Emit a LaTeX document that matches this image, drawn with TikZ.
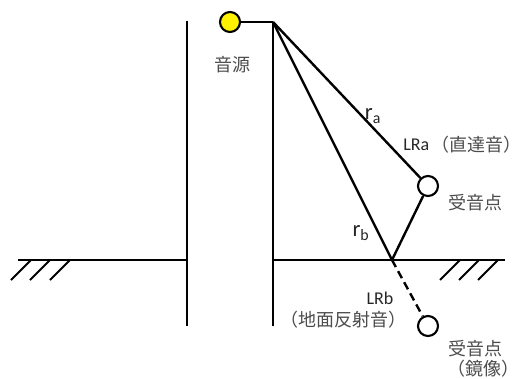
\documentclass[tikz,border=0pt]{standalone}
\usepackage{fontspec}
\setmainfont{Carlito}
\newfontfamily\cjk[RawFeature=+halt]{Noto Sans CJK JP}
\usepackage{tikz}
\usetikzlibrary{positioning}

\tikzset{
    wall/.style={line width=1.8pt, black},
    ray/.style={line width=1.8pt, black},
    hatchline/.style={line width=1.4pt, black},
    pointmark/.style={circle, draw=black, line width=1.6pt, fill=white, minimum size=15pt, inner sep=0pt},
    jptext/.style={text=black!70, inner sep=0pt, font=\fontsize{13.5}{15}\cjk},
    symtext/.style={text=black!85, inner sep=0pt, font=\fontsize{13.5}{15}\selectfont},
}

\begin{document}
\begin{tikzpicture}[x=0.75pt, y=-0.75pt]
    \useasboundingbox (0,0) rectangle (513,378);

    % Points
    \coordinate (corner) at (273,22);
    \coordinate (reflect) at (392,260);
    \coordinate (wallLtop) at (187,21);
    \coordinate (wallLbot) at (187,326);
    \coordinate (wallLfoot) at (187,260);
    \coordinate (wallRbot) at (273,326);
    \coordinate (wallRfoot) at (273,260);
    \coordinate (groundL) at (18,260);
    \coordinate (groundR) at (505,260);

    \node[pointmark, fill=yellow] (source) at (230,22) {};
    \node[pointmark] (rcvA) at (428,186) {};
    \node[pointmark] (rcvB) at (428,326) {};

    % Walls and ground
    \draw[wall] (wallLtop) -- (wallLbot);
    \draw[wall] (corner) -- (wallRbot);
    \draw[wall] (groundL) -- (wallLfoot);
    \draw[wall] (wallRfoot) -- (groundR);

    % Hatching
    \foreach \hx in {31,50,70,460,479,498}
        \draw[hatchline] (\hx,260) -- ++(-20,20);

    % Rays
    \draw[ray] (source) -- (corner);
    \draw[ray] (corner) -- (rcvA);
    \draw[ray] (corner) -- (reflect);
    \draw[ray] (reflect) -- (rcvA);
    \draw[ray, dash pattern=on 6pt off 3.5pt] (reflect) -- (rcvB);

    % Labels
    \node[jptext] (sourceLabel) at (232,65) {音源};
    \node[symtext] (raLabel) at (373,116) {\fontsize{17}{19}\selectfont r\textsubscript{a}};
    \node[symtext] (rbLabel) at (361,233) {\fontsize{17}{19}\selectfont r\textsubscript{b}};
    \node[symtext, anchor=west] (lraLabel) at (403,145) {LRa};
    \node[jptext] (directLabel) at (476,145) {（直達音）};
    \node[jptext] (rcvAlabel) at (475,203) {受音点};
    \node[symtext] (lrbLabel) at (380,298) {LRb};
    \node[jptext] (reflLabel) at (343,320) {（地面反射音）};
    \node[jptext] (rcvBlabel) at (475,349) {受音点};
    \node[jptext] (imageLabel) at (483,369) {（鏡像）};
\end{tikzpicture}
\end{document}
